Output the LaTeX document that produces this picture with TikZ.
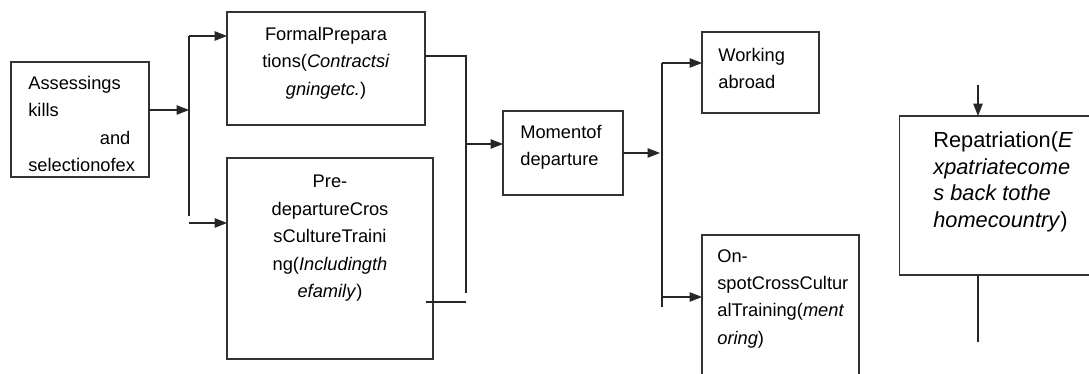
\documentclass[tikz,border=0pt]{standalone}
\usepackage{fontspec}
\setmainfont{Liberation Sans}
\usetikzlibrary{arrows.meta}

\begin{document}
\begin{tikzpicture}[
        x=0.02cm, y=-0.02cm,
        box/.style={rectangle, draw=black!80, line width=0.6pt, inner sep=0pt, outer sep=0pt},
        label/.style={inner sep=0pt, font=\fontsize{10.4}{15.6}\selectfont},
        biglabel/.style={inner sep=0pt, font=\fontsize{12.4}{15.3}\selectfont},
        link/.style={draw=black!85, line width=0.6pt},
        arrow/.style={link, -{Triangle[length=2.5mm, width=1.9mm]}}
    ]
    \clip (0,0) rectangle (1089,374);

    % Boxes
    \node[box, minimum width=2.76cm, minimum height=2.30cm] (assess) at (80,119.5) {};
    \node[box, minimum width=3.96cm, minimum height=2.26cm] (formal) at (326,68.5) {};
    \node[box, minimum width=4.12cm, minimum height=4.02cm] (predep) at (330,258.5) {};
    \node[box, minimum width=2.40cm, minimum height=1.68cm] (moment) at (563,153) {};
    \node[box, minimum width=2.34cm, minimum height=1.62cm] (working) at (760.5,72.5) {};
    \node[box, minimum width=3.14cm, minimum height=3.10cm] (onspot) at (780.5,312.5) {};
    \node[box, minimum width=3.96cm, minimum height=3.18cm] (repat) at (998,195.5) {};

    % Texts
    \node[label, anchor=north west, align=left, text width=2.04cm] (assesstext) at (28,76)
        {Assessings\\kills\\\hfill and\\selectionofex};
    \node[label, anchor=north, align=center] (formaltext) at (326,27)
        {FormalPrepara\\tions(\textit{Contractsi}\\\textit{gningetc.})};
    \node[label, anchor=north, align=center] (predeptext) at (330,175)
        {Pre-\\departureCros\\sCultureTraini\\ng(\textit{Includingth}\\\textit{efamily})};
    \node[label, anchor=north west, align=left] (momenttext) at (520,125)
        {Momentof\\departure};
    \node[label, anchor=north west, align=left] (workingtext) at (718,48)
        {Working\\abroad};
    \node[label, anchor=north west, align=left] (onspottext) at (717,249)
        {On-\\spotCrossCultur\\alTraining(\textit{ment}\\\textit{oring})};
    \node[biglabel, anchor=north west, align=left] (repattext) at (933,131)
        {Repatriation(\textit{E}\\\textit{xpatriatecome}\\\textit{s back tothe}\\\textit{homecountry})};

    % Junction points
    \coordinate (busA) at (189,110);
    \coordinate (busAtop) at (189,36);
    \coordinate (busAbot) at (189,216);
    \coordinate (busAlow) at (189,223);
    \coordinate (busB) at (466,56);
    \coordinate (busBmid) at (466,144);
    \coordinate (busBbot) at (466,293);
    \coordinate (busBlow) at (466,302);
    \coordinate (busC) at (662,153);
    \coordinate (busCtop) at (662,63);
    \coordinate (busCbot) at (662,307);
    \coordinate (busClow) at (662,297);
    \coordinate (reptop) at (978,85);
    \coordinate (repbot) at (978,342);

    % Connectors
    \draw[arrow] (assess.east |- busA) -- (busA);
    \draw[link] (busAtop) -- (busAbot);
    \draw[arrow] (busAtop) -- (busAtop -| formal.west);
    \draw[arrow] (busAlow) -- (busAlow -| predep.west);
    \draw[link] (busB -| formal.east) -- (busB) -- (busBbot);
    \draw[link] ([xshift=-0.14cm]busBlow -| predep.east) -- (busBlow);
    \draw[arrow] (busBmid) -- (busBmid -| moment.west);
    \draw[arrow] (moment.east) -- ([xshift=-0.04cm]busC);
    \draw[link] (busCtop) -- (busCbot);
    \draw[arrow] (busCtop) -- (busCtop -| working.west);
    \draw[arrow] (busClow) -- (busClow -| onspot.west);
    \draw[arrow] (reptop) -- (reptop |- repat.north);
    \draw[link] (reptop |- repat.south) -- (repbot);

\end{tikzpicture}
\end{document}
